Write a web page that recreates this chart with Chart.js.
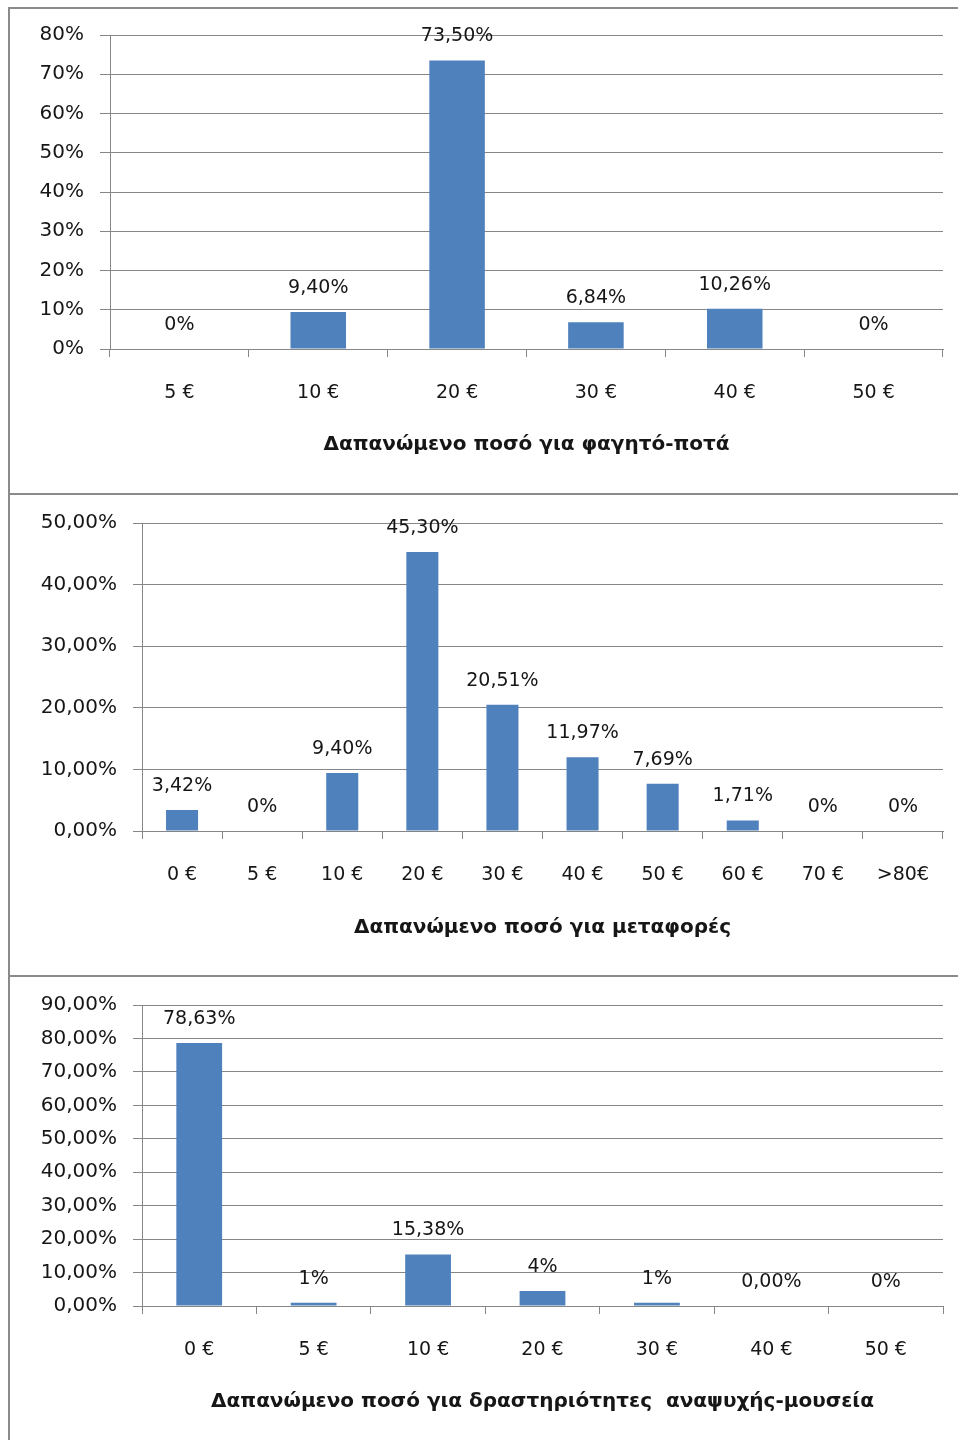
<!DOCTYPE html>
<html>
<head>
<meta charset="utf-8">
<script src="https://cdn.jsdelivr.net/npm/chart.js@4.4.0/dist/chart.umd.min.js"></script>
<style>
  html, body { margin: 0; padding: 0; background: #fff; width: 958px; height: 1440px; overflow: hidden; }
  .frame { position: absolute; left: 8px; top: 7px; width: 990px; height: 1450px; border: 2px solid #8a8a8a; box-sizing: border-box; }
  .divider { position: absolute; left: 8px; width: 990px; height: 2px; background: #8a8a8a; }
  canvas { position: absolute; left: 0; }
</style>
</head>
<body>
<div class="frame"></div>
<div class="divider" style="top:493px"></div>
<div class="divider" style="top:975px"></div>
<canvas id="foodChart" width="958" height="493" style="top:0;width:958px;height:493px"></canvas>
<canvas id="transportChart" width="958" height="480" style="top:495px;width:958px;height:480px"></canvas>
<canvas id="leisureChart" width="958" height="463" style="top:977px;width:958px;height:463px"></canvas>
<script>
// Food & drinks
const foodCategories = ['5 €', '10 €', '20 €', '30 €', '40 €', '50 €'];
const foodValues = [0, 9.40, 73.50, 6.84, 10.26, 0];
const foodLabels = ['0%', '9,40%', '73,50%', '6,84%', '10,26%', '0%'];
const foodTicks = ['0%', '10%', '20%', '30%', '40%', '50%', '60%', '70%', '80%'];

// Transport
const transportCategories = ['0 €', '5 €', '10 €', '20 €', '30 €', '40 €', '50 €', '60 €', '70 €', '>80€'];
const transportValues = [3.42, 0, 9.40, 45.30, 20.51, 11.97, 7.69, 1.71, 0, 0];
const transportLabels = ['3,42%', '0%', '9,40%', '45,30%', '20,51%', '11,97%', '7,69%', '1,71%', '0%', '0%'];
const transportTicks = ['0,00%', '10,00%', '20,00%', '30,00%', '40,00%', '50,00%'];

// Leisure / museums
const leisureCategories = ['0 €', '5 €', '10 €', '20 €', '30 €', '40 €', '50 €'];
const leisureValues = [78.63, 1, 15.38, 4.5, 1, 0, 0];
const leisureLabels = ['78,63%', '1%', '15,38%', '4%', '1%', '0,00%', '0%'];
const leisureTicks = ['0,00%', '10,00%', '20,00%', '30,00%', '40,00%', '50,00%', '60,00%', '70,00%', '80,00%', '90,00%'];

const BAR_COLOR = '#4F81BD';
const GRID_COLOR = '#868686';
const TEXT_COLOR = '#161616';

Chart.defaults.font.family = "'DejaVu Sans', sans-serif";
Chart.defaults.color = TEXT_COLOR;

// Draws the value label above every bar (also for zero bars)
const barLabels = {
  id: 'barLabels',
  afterDatasetsDraw(chart, args, opts) {
    const ctx = chart.ctx;
    const meta = chart.getDatasetMeta(0);
    ctx.save();
    ctx.font = "19px 'DejaVu Sans'";
    ctx.fillStyle = TEXT_COLOR;
    ctx.textAlign = 'center';
    ctx.textBaseline = 'middle';
    meta.data.forEach((bar, i) => {
      ctx.fillText(opts.labels[i], bar.x, bar.y - 24);
    });
    ctx.restore();
  }
};

function makeChart(id, cfg) {
  const ctx = document.getElementById(id).getContext('2d');
  return new Chart(ctx, {
    type: 'bar',
    data: {
      labels: cfg.categories,
      datasets: [{
        data: cfg.values,
        backgroundColor: BAR_COLOR,
        borderWidth: 0,
        categoryPercentage: 1,
        barPercentage: 0.4
      }]
    },
    plugins: [barLabels],
    options: {
      responsive: false,
      animation: false,
      events: [],
      layout: { padding: { top: cfg.top, right: 15, left: 0, bottom: 0 } },
      plugins: {
        legend: { display: false },
        tooltip: { enabled: false },
        barLabels: { labels: cfg.labels }
      },
      scales: {
        x: {
          grid: { offset: true, drawOnChartArea: false, drawTicks: true, tickLength: 8, color: GRID_COLOR },
          border: { color: GRID_COLOR, width: 1 },
          ticks: { font: { size: 19 }, padding: 25, maxRotation: 0, autoSkip: false, color: TEXT_COLOR },
          title: {
            display: true,
            text: cfg.title,
            font: { size: 20, weight: 'bold' },
            color: TEXT_COLOR,
            padding: { top: 0, bottom: cfg.titlePad }
          },
          afterFit(scale) { scale.height = cfg.xHeight; }
        },
        y: {
          min: 0,
          max: cfg.max,
          grid: { color: GRID_COLOR, lineWidth: 1, tickLength: cfg.tickLen },
          border: { color: GRID_COLOR, width: 1 },
          ticks: {
            stepSize: 10,
            padding: 16,
            font: { size: 20 },
            color: TEXT_COLOR,
            callback: (v, i) => cfg.ticks[i]
          },
          afterFit(scale) { scale.width = cfg.left; }
        }
      }
    }
  });
}

makeChart('foodChart', {
  categories: foodCategories, values: foodValues, labels: foodLabels, ticks: foodTicks,
  title: 'Δαπανώμενο ποσό για φαγητό-ποτά',
  max: 80, top: 35, left: 110, tickLen: 10, xHeight: 144, titlePad: 36
});

makeChart('transportChart', {
  categories: transportCategories, values: transportValues, labels: transportLabels, ticks: transportTicks,
  title: 'Δαπανώμενο ποσό για μεταφορές',
  max: 50, top: 28, left: 142, tickLen: 9, xHeight: 144, titlePad: 35
});

makeChart('leisureChart', {
  categories: leisureCategories, values: leisureValues, labels: leisureLabels, ticks: leisureTicks,
  title: 'Δαπανώμενο ποσό για δραστηριότητες  αναψυχής-μουσεία',
  max: 90, top: 27, left: 142, tickLen: 9, xHeight: 134, titlePad: 26
});
</script>
</body>
</html>
